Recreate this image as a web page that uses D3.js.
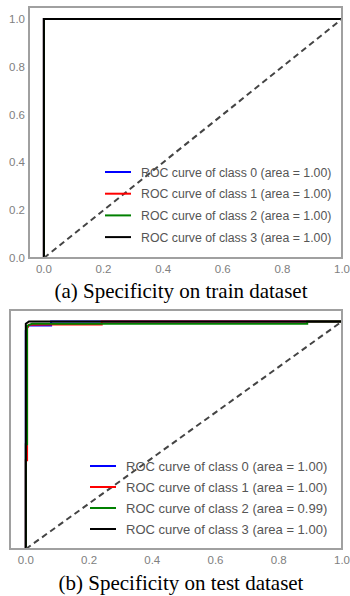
<!DOCTYPE html>
<html>
<head>
<meta charset="utf-8">
<script src="https://cdn.jsdelivr.net/npm/d3@7"></script>
<style>
  body { margin: 0; background: #fff; }
  svg { display: block; }
  .tick-label { font-family: 'Liberation Sans', Arial, sans-serif; font-size: 11.5px; fill: #808080; }
  .legend-text { font-family: 'Liberation Sans', Arial, sans-serif; fill: #555; }
  .caption { font-family: 'Liberation Serif', 'Times New Roman', serif; font-size: 21px; fill: #000; }
</style>
</head>
<body>
<div id="chart"></div>
<script>
const classNames = ['ROC curve of class 0', 'ROC curve of class 1', 'ROC curve of class 2', 'ROC curve of class 3'];
const classColors = ['#0000ff', '#ff0000', '#008000', '#000000'];
const tickValues = [0, 0.2, 0.4, 0.6, 0.8, 1.0];

// train: all perfect
const trainAreas = [1.00, 1.00, 1.00, 1.00];
const trainFpr0 = [0, 0, 1];
const trainTpr0 = [0, 1, 1];
const trainFpr1 = [0, 0, 1];
const trainTpr1 = [0, 1, 1];
const trainFpr2 = [0, 0, 1];
const trainTpr2 = [0, 1, 1];
const trainFpr3 = [0, 0, 1];
const trainTpr3 = [0, 1, 1];

// test
const testAreas = [1.00, 1.00, 0.99, 1.00];
const testFpr0 = [0, 0, 0.005, 0.01, 0.08, 0.08, 1];
const testTpr0 = [0, 0.96, 0.975, 0.982, 0.982, 1, 1];
const testFpr1 = [0, 0, 0.004, 0.004, 0.01, 0.08, 0.24, 0.24, 1];
const testTpr1 = [0, 0.39, 0.39, 0.97, 0.985, 0.986, 0.986, 1, 1];
const testFpr2 = [0, 0, 0.004, 0.004, 0.02, 0.89, 0.89, 1];
const testTpr2 = [0, 0.46, 0.46, 0.98, 0.99, 0.99, 1, 1];
const testFpr3 = [0, 0, 0.01, 1];
const testTpr3 = [0, 0.99, 1, 1];

const zip = (a, b) => a.map((v, i) => [v, b[i]]);

const svg = d3.select('#chart').append('svg')
  .attr('width', 350).attr('height', 596);

function drawPanel(opts) {
  const x = d3.scaleLinear().domain([-0.05, 1]).range([opts.left, opts.right]);
  const y = d3.scaleLinear().domain([0, 1.05]).range([opts.bottom, opts.top]);
  const g = svg.append('g');

  const line = d3.line().x(d => x(d[0])).y(d => y(d[1]));

  opts.curves.forEach((c, i) => {
    g.append('path')
      .attr('d', line(c))
      .attr('fill', 'none')
      .attr('stroke', classColors[i])
      .attr('stroke-width', 2);
  });

  g.append('path')
    .attr('d', line([[0, 0], [1, 1]]))
    .attr('fill', 'none')
    .attr('stroke', '#444')
    .attr('stroke-width', 2)
    .attr('stroke-dasharray', '6,4');

  g.append('rect')
    .attr('x', opts.left).attr('y', opts.top)
    .attr('width', opts.right - opts.left).attr('height', opts.bottom - opts.top)
    .attr('fill', 'none')
    .attr('stroke', '#a0a0a0')
    .attr('stroke-width', 2);

  g.selectAll('text.xt').data(tickValues).enter()
    .append('text').attr('class', 'tick-label')
    .attr('x', d => x(d)).attr('y', opts.bottom + 15)
    .attr('text-anchor', 'middle')
    .text(d => d.toFixed(1));

  if (opts.yLabels) {
    g.selectAll('text.yt').data(tickValues).enter()
      .append('text').attr('class', 'tick-label')
      .attr('x', opts.left - 4).attr('y', d => y(d) + 4)
      .attr('text-anchor', 'end')
      .text(d => d.toFixed(1));
  }

  const lg = g.append('g');
  classNames.forEach((name, i) => {
    const ly = opts.legendTop + i * opts.legendStep;
    lg.append('line')
      .attr('x1', opts.legendX).attr('x2', opts.legendX + 26)
      .attr('y1', ly).attr('y2', ly)
      .attr('stroke', classColors[i]).attr('stroke-width', 2);
    lg.append('text').attr('class', 'legend-text')
      .attr('x', opts.legendX + 36).attr('y', ly + 4.5)
      .style('font-size', opts.legendFont + 'px')
      .text(name + ' (area = ' + opts.areas[i].toFixed(2) + ')');
  });

  svg.append('text').attr('class', 'caption')
    .attr('x', 181).attr('y', opts.captionY)
    .attr('text-anchor', 'middle')
    .text(opts.caption);
}

drawPanel({
  left: 29, right: 342, top: 7, bottom: 258,
  yLabels: true,
  curves: [zip(trainFpr0, trainTpr0), zip(trainFpr1, trainTpr1), zip(trainFpr2, trainTpr2), zip(trainFpr3, trainTpr3)],
  areas: trainAreas,
  legendX: 105, legendTop: 172, legendStep: 21.7, legendFont: 12.3,
  caption: '(a) Specificity on train dataset', captionY: 298
});

drawPanel({
  left: 10, right: 342, top: 310, bottom: 549,
  yLabels: false,
  curves: [zip(testFpr0, testTpr0), zip(testFpr1, testTpr1), zip(testFpr2, testTpr2), zip(testFpr3, testTpr3)],
  areas: testAreas,
  legendX: 90, legendTop: 466, legendStep: 21, legendFont: 13,
  caption: '(b) Specificity on test dataset', captionY: 590
});
</script>
</body>
</html>
